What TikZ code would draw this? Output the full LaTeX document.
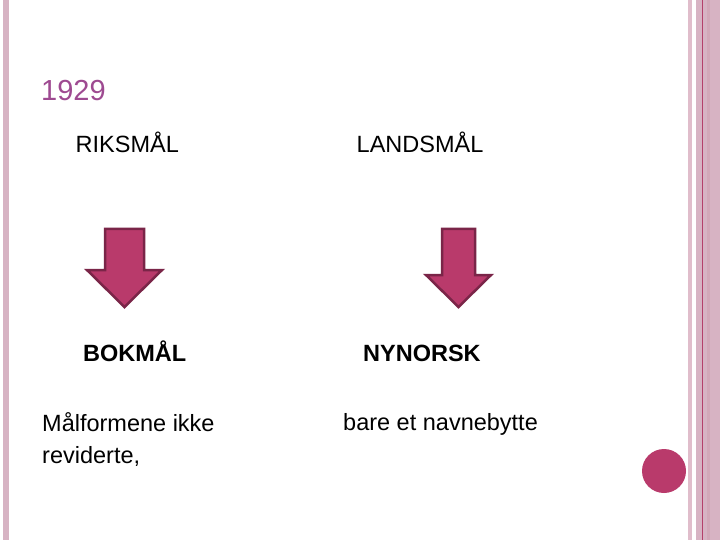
\documentclass[tikz,border=0pt]{standalone}
\usepackage{fontspec}
\setmainfont{Liberation Sans}
\usepackage{tikz}
\definecolor{bandpink}{HTML}{D7B3C3}
\definecolor{bandlight}{HTML}{E0BDCB}
\definecolor{banddark}{HTML}{D2A8B8}
\definecolor{linered}{HTML}{B4406A}
\definecolor{arrowfill}{HTML}{B93A6B}
\definecolor{arrowedge}{HTML}{7A2548}
\definecolor{yearpurple}{HTML}{9E4A91}
\tikzset{
  slide text/.style={anchor=base west, inner sep=0pt, font=\fontsize{23.5}{31.6}\selectfont},
  block arrow/.style={fill=arrowfill, draw=arrowedge, line width=2.5pt, line join=miter},
}

\begin{document}
\begin{tikzpicture}[x=1pt, y=-1pt]
    \useasboundingbox (0,0) rectangle (720,540);
    \fill [white] (0,0) rectangle (720,540);

    % side bands
    \fill [bandpink] (3,0) rectangle (9,540);
    \fill [bandlight] (688,0) rectangle (692,540);
    \fill [bandpink] (696,0) rectangle (720,540);
    \fill [banddark] (707,0) rectangle (710,540);
    \draw [linered, line width=1pt] (702.5,0) -- (702.5,540);
    \fill [arrowfill] (664,471) circle (22pt);

    \node [slide text, font=\fontsize{29}{35}\selectfont, text=yearpurple] (year) at (41,101) {1929};

    \node [slide text] (riksmal) at (75.5,152.5) {RIKSMÅL};
    \node [slide text] (landsmal) at (356.5,152.5) {LANDSMÅL};

    \filldraw [block arrow] (105,229) -- (144,229) -- (144,270) -- (162,270) -- (124.5,307) -- (87,270) -- (105,270) -- cycle;
    \filldraw [block arrow] (442,229) -- (475,229) -- (475,275) -- (491,275) -- (458.5,307) -- (426,275) -- (442,275) -- cycle;

    \node [slide text, font=\bfseries\fontsize{23.5}{31.6}\selectfont] (bokmal) at (83,361) {BOKMÅL};
    \node [slide text, font=\bfseries\fontsize{23.5}{31.6}\selectfont] (nynorsk) at (363,361.5) {NYNORSK};

    % base of a two-line node sits on its last line
    \node [slide text, align=left] (malformer) at (42,463.3) {Målformene ikke\\reviderte,};
    \node [slide text] (navnebytte) at (343,430.5) {bare et navnebytte};
\end{tikzpicture}
\end{document}
